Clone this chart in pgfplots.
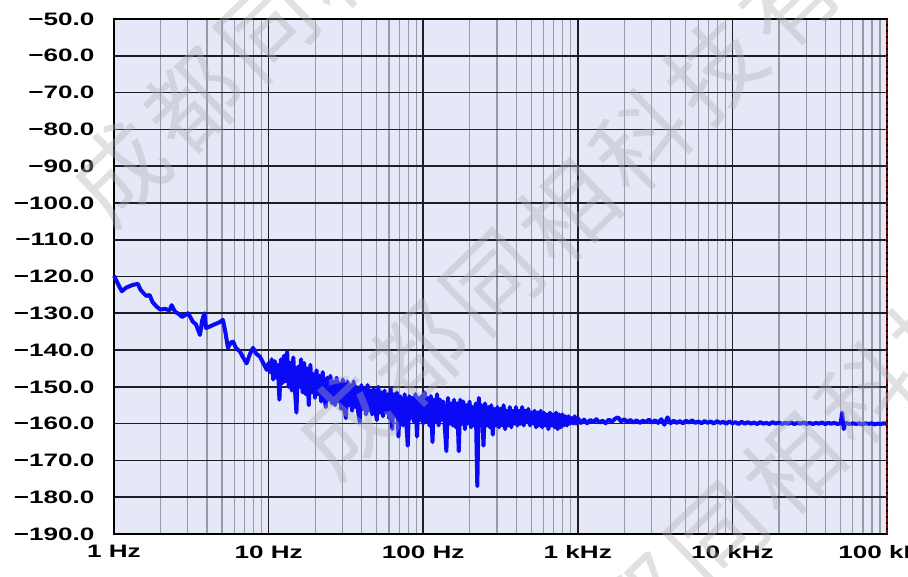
\documentclass[border=0pt]{standalone}
\usepackage{fontspec}
\setmainfont{Liberation Sans}
\newfontfamily\tickfont[FakeStretch=1.45]{Liberation Sans}
\newfontfamily\cjk{Noto Sans CJK SC}
\usepackage{pgfplots}
\pgfplotsset{compat=1.18}

\definecolor{bgblue}{RGB}{229,233,247}
\definecolor{minorgray}{RGB}{150,155,168}
\definecolor{majorgray}{RGB}{30,30,40}
\definecolor{curveblue}{RGB}{10,10,245}
\definecolor{cursorred}{RGB}{120,10,10}
\definecolor{wmgray}{RGB}{175,175,182}

\begin{document}
\begin{tikzpicture}
\begin{axis}[
    at={(0,0)}, anchor=south west,
    scale only axis,
    width=773pt, height=515pt,
    xmin=0, xmax=5,
    ymin=-190, ymax=-50,
    clip=false,
    % x is log10(f / 1 Hz): one unit per decade
    xtick={0,1,2,3,4,5},
    xticklabels={1 Hz,10 Hz,100 Hz,1 kHz,10 kHz,100 kHz},
    minor xtick={0.30103,0.47712,0.60206,0.69897,0.77815,0.84510,0.90309,0.95424,
                 1.30103,1.47712,1.60206,1.69897,1.77815,1.84510,1.90309,1.95424,
                 2.30103,2.47712,2.60206,2.69897,2.77815,2.84510,2.90309,2.95424,
                 3.30103,3.47712,3.60206,3.69897,3.77815,3.84510,3.90309,3.95424,
                 4.30103,4.47712,4.60206,4.69897,4.77815,4.84510,4.90309,4.95424},
    ytick={-190,-180,-170,-160,-150,-140,-130,-120,-110,-100,-90,-80,-70,-60,-50},
    yticklabels={{−190.0},{−180.0},{−170.0},{−160.0},{−150.0},{−140.0},{−130.0},
                 {−120.0},{−110.0},{−100.0},{−90.0},{−80.0},{−70.0},{−60.0},{−50.0}},
    grid=both,
    major grid style={draw=majorgray, line width=1.6pt},
    minor grid style={draw=minorgray, line width=1.2pt},
    major tick length=0pt, minor tick length=0pt,
    axis background/.style={fill=bgblue},
    axis line style={black, line width=2.8pt},
    tick label style={font=\tickfont\bfseries\fontsize{18}{20}\selectfont, text=black},
    yticklabel style={xshift=-16pt},
    xticklabel style={yshift=-8pt},
]

\addplot[curveblue, line width=4pt, line join=round] coordinates {
(0.000,-119.8)(0.02,-121.5)(0.05,-124.0)(0.08,-123.0)(0.12,-122.3)(0.155,-122.0)
(0.17,-123.5)(0.19,-124.5)(0.21,-125.3)(0.23,-125.0)(0.25,-127.0)(0.276,-128.2)
(0.30,-129.0)(0.33,-128.8)(0.36,-129.2)(0.373,-127.8)(0.395,-129.6)(0.42,-130.2)
(0.44,-131.0)(0.46,-130.5)(0.48,-130.0)(0.50,-131.5)(0.51,-132.3)(0.53,-133.0)
(0.556,-135.9)(0.57,-132.0)(0.585,-130.0)(0.595,-134.0)(0.62,-133.6)(0.65,-133.0)
(0.68,-132.5)(0.705,-131.8)(0.72,-135.0)(0.737,-139.4)(0.755,-138.0)(0.77,-137.7)
(0.79,-139.5)(0.815,-140.4)(0.835,-142.0)(0.858,-143.6)(0.88,-141.0)(0.899,-139.4)
(0.92,-141.0)(0.944,-141.8)(0.965,-143.5)(0.988,-145.4)
(1.00,-143.5)(1.01,-146.0)(1.02,-142.5)(1.03,-148.0)(1.04,-143.0)(1.05,-147.5)
(1.06,-144.0)(1.07,-153.5)(1.08,-142.5)(1.09,-149.0)(1.10,-141.5)(1.11,-148.5)
(1.12,-140.5)(1.13,-150.0)(1.14,-143.5)(1.15,-151.0)(1.16,-142.0)(1.17,-150.5)
(1.18,-157.0)(1.19,-144.5)(1.20,-150.0)(1.21,-142.5)(1.22,-151.5)(1.23,-143.5)
(1.24,-152.0)(1.25,-145.0)(1.26,-155.0)(1.27,-144.0)(1.28,-151.5)(1.29,-146.5)
(1.30,-153.0)(1.31,-145.5)(1.32,-152.0)(1.33,-147.0)(1.34,-154.0)(1.35,-146.0)
(1.36,-152.5)(1.37,-155.5)(1.38,-147.5)(1.39,-153.5)(1.40,-147.0)(1.41,-154.5)
(1.42,-148.5)(1.43,-155.0)(1.44,-147.5)(1.45,-154.0)(1.46,-149.0)(1.47,-156.0)
(1.48,-148.0)(1.49,-155.5)(1.50,-158.5)(1.51,-148.5)(1.52,-155.0)(1.53,-149.5)
(1.54,-156.5)(1.55,-148.5)(1.56,-155.5)(1.57,-150.0)(1.58,-157.0)(1.59,-159.5)
(1.60,-149.5)(1.61,-156.0)(1.62,-150.5)(1.63,-157.5)(1.64,-149.5)(1.65,-156.5)
(1.66,-151.0)(1.67,-157.5)(1.68,-150.5)(1.69,-156.0)(1.70,-159.0)(1.71,-150.0)
(1.72,-157.0)(1.73,-151.5)(1.74,-158.0)(1.75,-151.0)(1.76,-157.0)(1.77,-152.0)
(1.78,-158.5)(1.79,-150.5)(1.80,-161.5)(1.81,-152.0)(1.82,-158.0)(1.83,-151.5)
(1.84,-163.5)(1.85,-152.5)(1.86,-158.5)(1.87,-160.5)(1.88,-152.0)(1.89,-159.0)
(1.90,-166.0)(1.91,-152.5)(1.92,-158.5)(1.93,-153.0)(1.94,-159.5)(1.95,-152.0)
(1.96,-163.5)(1.97,-153.0)(1.98,-159.0)(1.99,-152.5)(2.00,-160.0)(2.01,-151.5)
(2.02,-159.5)(2.03,-153.0)(2.04,-160.5)(2.05,-152.5)(2.06,-165.0)(2.07,-153.5)
(2.08,-159.5)(2.09,-152.0)(2.10,-160.5)(2.11,-153.5)(2.12,-159.0)(2.13,-154.0)
(2.14,-161.0)(2.15,-167.5)(2.16,-153.0)(2.17,-160.0)(2.18,-154.5)(2.19,-160.5)
(2.20,-153.5)(2.21,-161.0)(2.22,-154.5)(2.23,-167.5)(2.24,-153.5)(2.25,-160.0)
(2.26,-154.0)(2.27,-161.5)(2.28,-155.0)(2.29,-160.0)(2.30,-154.0)(2.31,-161.0)
(2.32,-155.5)(2.33,-160.5)(2.34,-154.5)(2.35,-177.0)(2.36,-153.0)(2.37,-160.5)
(2.38,-155.0)(2.39,-166.0)(2.40,-154.5)(2.41,-160.5)(2.42,-155.5)(2.43,-161.0)
(2.44,-155.0)(2.45,-163.0)(2.46,-156.0)(2.47,-160.5)(2.48,-155.5)(2.49,-161.0)
(2.50,-156.0)(2.51,-160.5)(2.52,-155.0)(2.53,-161.5)(2.54,-156.5)(2.55,-160.5)
(2.56,-155.5)(2.57,-161.0)(2.58,-156.5)(2.59,-160.0)(2.60,-155.5)(2.61,-160.5)
(2.62,-156.5)(2.63,-160.0)(2.64,-155.5)(2.65,-160.5)(2.66,-156.5)(2.67,-159.5)
(2.68,-156.0)(2.69,-160.5)(2.70,-157.0)(2.71,-160.0)(2.72,-156.5)(2.73,-161.0)
(2.74,-157.0)(2.75,-160.5)(2.76,-156.5)(2.77,-161.0)(2.78,-157.0)(2.79,-160.5)
(2.80,-157.5)(2.81,-161.5)(2.82,-157.0)(2.83,-160.5)(2.84,-157.5)(2.85,-161.0)
(2.86,-157.0)(2.87,-161.5)(2.88,-157.5)(2.89,-161.0)(2.90,-157.5)(2.91,-160.5)
(2.92,-158.0)(2.93,-160.5)(2.94,-158.0)(2.95,-160.0)(2.96,-158.5)(2.97,-160.0)
(2.98,-158.0)(2.99,-160.0)(3.00,-158.5)
(3.02,-159.8)(3.04,-158.9)(3.06,-159.9)(3.08,-159.0)(3.10,-159.6)(3.12,-158.8)
(3.14,-159.7)(3.16,-159.2)(3.18,-159.9)(3.20,-158.9)(3.22,-159.5)(3.24,-158.7)
(3.26,-158.3)(3.28,-159.4)(3.30,-158.8)(3.32,-159.6)(3.34,-159.0)(3.36,-159.7)
(3.38,-159.1)(3.40,-159.8)(3.42,-159.2)(3.44,-159.6)(3.46,-158.9)(3.48,-159.7)
(3.50,-159.1)(3.52,-159.8)(3.54,-158.8)(3.56,-160.3)(3.58,-158.3)(3.60,-159.9)
(3.62,-159.2)(3.64,-159.8)(3.66,-159.3)(3.68,-159.9)(3.70,-159.2)(3.72,-159.7)
(3.74,-159.1)(3.76,-159.8)(3.78,-159.4)(3.80,-159.9)(3.82,-159.3)(3.84,-159.8)
(3.86,-159.4)(3.88,-160.0)(3.90,-159.3)(3.92,-159.8)(3.94,-159.5)(3.96,-160.0)
(3.98,-159.4)(4.00,-159.9)(4.02,-159.6)(4.04,-160.1)(4.06,-159.5)(4.08,-160.0)
(4.10,-159.6)(4.12,-160.0)(4.14,-159.7)(4.16,-160.1)(4.18,-159.6)(4.20,-160.0)
(4.22,-159.8)(4.24,-160.1)(4.26,-159.6)(4.28,-160.0)(4.30,-159.7)(4.32,-160.1)
(4.34,-159.8)(4.36,-160.0)(4.38,-159.7)(4.40,-160.1)(4.42,-159.8)(4.44,-160.0)
(4.46,-159.7)(4.48,-160.1)(4.50,-159.8)(4.52,-160.1)(4.54,-159.8)(4.56,-160.0)
(4.58,-159.7)(4.60,-160.1)(4.62,-159.8)(4.64,-160.0)(4.66,-159.8)(4.68,-160.1)
(4.70,-159.9)(4.71,-157.0)(4.72,-161.5)(4.73,-159.8)(4.76,-160.1)(4.78,-159.9)
(4.80,-160.1)(4.82,-159.9)(4.84,-160.2)(4.86,-159.9)(4.88,-160.1)(4.90,-159.9)
(4.92,-160.2)(4.94,-160.0)(4.96,-160.1)(4.98,-159.9)(5.00,-160.1)
};

% cursor marker on the right edge
\addplot[cursorred, line width=2pt, dash pattern=on 4pt off 2pt] coordinates {(5,-190) (5,-50)};
\end{axis}

% watermark
\foreach \sx/\sy in {6/362, 231/109, 456/-144} {
  \foreach \c [count=\k from 0] in {成,都,同,相,科,技,有,限,公,司} {
    \pgfmathsetmacro{\px}{\sx+74*\k}
    \pgfmathsetmacro{\py}{\sy+71*\k}
    \node[rotate=44, text=wmgray, opacity=0.38,
          font=\cjk\fontsize{94}{94}\selectfont] at (\px pt,\py pt) {\c};
  }
}

\pgfresetboundingbox
\path (-114pt,-42pt) rectangle (794pt,534pt);
\end{tikzpicture}
\end{document}
